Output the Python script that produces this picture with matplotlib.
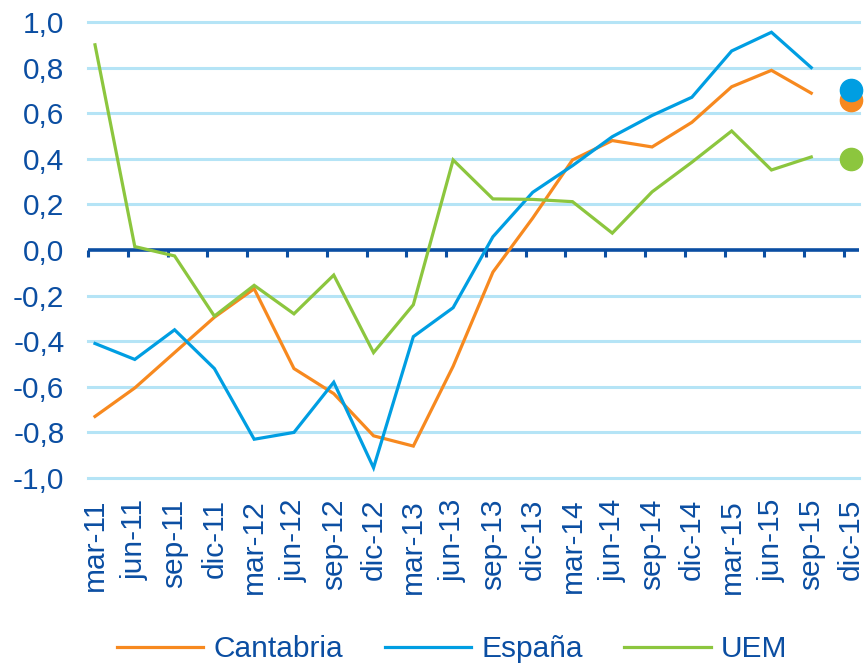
import matplotlib
matplotlib.use("Agg")
import matplotlib.pyplot as plt
import numpy as np

categories = ["mar-11", "jun-11", "sep-11", "dic-11", "mar-12", "jun-12", "sep-12", "dic-12",
              "mar-13", "jun-13", "sep-13", "dic-13", "mar-14", "jun-14", "sep-14", "dic-14",
              "mar-15", "jun-15", "sep-15", "dic-15"]

cantabria = [-0.73, -0.605, -0.45, -0.295, -0.17, -0.52, -0.63, -0.815, -0.86, -0.51,
             -0.097, 0.14, 0.395, 0.48, 0.452, 0.56, 0.716, 0.788, 0.688]
espana = [-0.41, -0.48, -0.35, -0.52, -0.83, -0.80, -0.58, -0.955, -0.38, -0.253,
          0.058, 0.253, 0.37, 0.497, 0.59, 0.67, 0.873, 0.955, 0.80]
uem = [0.90, 0.015, -0.026, -0.29, -0.155, -0.28, -0.11, -0.45, -0.24, 0.395,
       0.224, 0.222, 0.212, 0.074, 0.255, 0.385, 0.522, 0.351, 0.408]

# forecast points (dic-15)
cantabria_f = 0.66
espana_f = 0.70
uem_f = 0.40

yticks = [-1.0, -0.8, -0.6, -0.4, -0.2, 0.0, 0.2, 0.4, 0.6, 0.8, 1.0]

C_OR = "#F7891F"
C_BL = "#009EE2"
C_GR = "#8CC63E"
C_TX = "#0B4EA2"
C_GRID = "#B5E4F6"

plt.rcParams["font.family"] = ["Liberation Sans", "DejaVu Sans"]

fig = plt.figure(figsize=(8.66, 6.65), dpi=100)
W, H = 866, 665
left, right, top, bottom = 88, 859, 22, 478
ax = fig.add_axes([left / W, 1 - bottom / H, (right - left) / W, (bottom - top) / H])

x = np.arange(len(categories))
xs = x[:len(cantabria)]
xl = -0.176
ax.set_xlim(xl, 19.2)
ax.set_ylim(-1.0, 1.0)

for yv in yticks:
    if yv != 0:
        ax.axhline(yv, color=C_GRID, lw=2.2, zorder=1, clip_on=False)

ax.axhline(0, color=C_TX, lw=2.6, zorder=2)
ax.vlines(np.arange(20) + xl, -0.032, 0, color=C_TX, lw=2.2, zorder=2, clip_on=False)

ax.plot(xs, cantabria, color=C_OR, lw=2.3, label="Cantabria", zorder=3, solid_joinstyle="miter")
ax.plot(xs, espana, color=C_BL, lw=2.3, label="España", zorder=3, solid_joinstyle="miter")
ax.plot(xs, uem, color=C_GR, lw=2.3, label="UEM", zorder=3, solid_joinstyle="miter")

ax.plot([x[19]], [cantabria_f], "o", color=C_OR, ms=16, zorder=4, clip_on=False)
ax.plot([x[19]], [espana_f], "o", color=C_BL, ms=16, zorder=5, clip_on=False)
ax.plot([x[19]], [uem_f], "o", color=C_GR, ms=16, zorder=4, clip_on=False)

for s in ax.spines.values():
    s.set_visible(False)

ax.set_yticks(yticks)
ax.set_yticklabels([f"{v:.1f}".replace(".", ",") for v in yticks])
ax.set_xticks(x)
ax.set_xticklabels(categories, rotation=90)
ax.tick_params(axis="y", length=0, pad=17, labelsize=21.5, labelcolor=C_TX)
ax.tick_params(axis="x", length=0, pad=15, labelsize=21.5, labelcolor=C_TX)

leg = ax.legend(loc="center", bbox_to_anchor=(452 / W, 1 - 649 / H), bbox_transform=fig.transFigure,
                ncol=3, frameon=False, borderaxespad=0, borderpad=0,
                fontsize=21.5, handlelength=2.9, handletextpad=0.33, columnspacing=1.4)
for t in leg.get_texts():
    t.set_color(C_TX)

fig.savefig("out.png", dpi=100)
